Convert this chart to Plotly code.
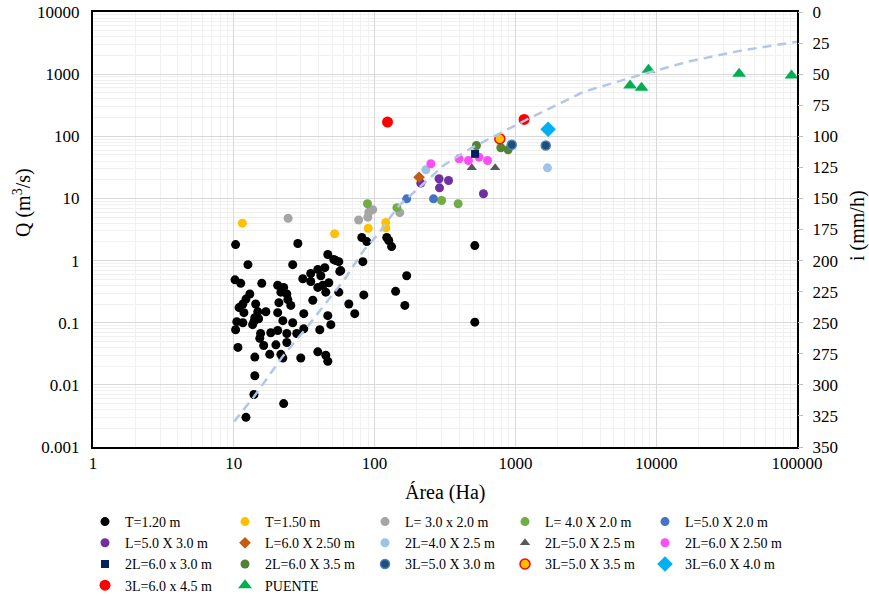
import plotly.graph_objects as go

# ---- data: drainage area (Ha) vs. design flow Q (m3/s), by structure type ----
t120_area = [10.3, 28.5, 12.6, 26.2, 10.2, 11.2, 15.8, 20.5, 22.6, 13.0, 21.6, 23.8, 12.2, 11.6,
             14.3, 20.9, 24.2, 25.4, 10.9, 11.8, 14.8, 16.9, 20.5, 31.4, 30.9, 35.2, 39.5, 44.3,
             41.5, 46.5, 51.3, 55.7, 56.6, 36.4, 39.5, 42.9, 45.0, 47.3, 35.2, 10.5, 11.6, 13.9,
             15.0, 22.3, 26.2, 46.5, 10.3, 13.6, 15.5, 18.3, 20.5, 23.8, 28.0, 31.4, 40.8, 48.9,
             15.3, 16.3, 19.9, 23.8, 10.7, 14.1, 18.0, 21.6, 22.3, 29.9, 39.5, 45.0, 46.5, 14.1,
             13.9, 22.6, 12.2, 81.1, 88.0, 122, 126, 132, 82.5, 169, 141, 164, 83.8, 65.6, 72.3,
             55.7, 57.5, 53.0, 515, 515, 14.1]
t120_q = [1.81, 1.88, 0.86, 0.86, 0.49, 0.43, 0.43, 0.40, 0.37, 0.29, 0.31, 0.29, 0.24, 0.20,
          0.20, 0.21, 0.235, 0.19, 0.175, 0.145, 0.15, 0.15, 0.145, 0.14, 0.51, 0.62, 0.72, 0.77,
          0.57, 1.25, 1.04, 0.96, 0.67, 0.23, 0.37, 0.40, 0.31, 0.44, 0.46, 0.104, 0.100, 0.104,
          0.116, 0.108, 0.100, 0.130, 0.077, 0.093, 0.067, 0.069, 0.075, 0.067, 0.067, 0.080, 0.077, 0.093,
          0.056, 0.043, 0.044, 0.048, 0.040, 0.028, 0.031, 0.031, 0.027, 0.027, 0.034, 0.030, 0.024, 0.014,
          0.007, 0.005, 0.003, 2.35, 2.02, 2.35, 2.10, 1.68, 0.96, 0.57, 0.32, 0.19, 0.28, 0.20, 0.14,
          0.31, 0.69, 1.0, 1.74, 0.102, 0.12]

t150_area = [11.5, 52, 90, 120, 120]
t150_q = [4.0, 2.7, 3.3, 4.1, 3.35]

l30x20_area = [24.3, 77, 89.5, 91, 97, 151]
l30x20_q = [4.8, 4.5, 5.0, 6.0, 6.6, 5.9]

l40x20_area = [89, 144, 299, 392]
l40x20_q = [8.2, 7.1, 9.25, 8.2]

l50x20_area = [169, 262]
l50x20_q = [9.85, 9.85]

l50x30_area = [213, 287, 335, 289, 593]
l50x30_q = [17.6, 20.7, 19.4, 14.8, 11.9]

l60x25_area = [207]
l60x25_q = [21.9]

l2_40x25_area = [231, 1690]
l2_40x25_q = [28.9, 31.1]

l2_50x25_area = [490, 718]
l2_50x25_q = [31.1, 31.1]

l2_60x25_area = [251, 398, 464, 552, 634]
l2_60x25_q = [36.1, 43.4, 40.7, 46.1, 40.7]

l2_60x30_area = [517]
l2_60x30_q = [52.2]

l2_60x35_area = [529, 788, 888]
l2_60x35_q = [71.1, 65.3, 60.6]

l3_50x30_area = [942, 1643]
l3_50x30_q = [72.9, 71.0]

l3_50x35_area = [775]
l3_50x35_q = [91.2]

l3_60x40_area = [1707]
l3_60x40_q = [130]

l3_60x45_area = [123.5, 1153]
l3_60x45_q = [169, 187]

puente_area = [6525, 7865, 8815, 38800, 91400]
puente_q = [658, 604, 1178, 1015, 953]

# rainfall intensity curve i (mm/h) against area, read on the right axis
curve_area = [10.05, 13.9, 22.2, 33.3, 60.7, 84.1, 105, 146, 238, 312, 482, 706, 1186,
              3076, 6966, 16670, 39900, 90360, 100000]
curve_i = [329.6, 309.5, 277.3, 253.2, 215.6, 191.5, 179.4, 156.7, 135.2, 123.1, 109.7, 99.8,
           86.9, 64.1, 52.1, 40.0, 31.1, 24.7, 24.0]

x_tickvals = [1, 10, 100, 1000, 10000, 100000]
x_ticktext = ["1", "10", "100", "1000", "10000", "100000"]
y_tickvals = [0.001, 0.01, 0.1, 1, 10, 100, 1000, 10000]
y_ticktext = ["0.001", "0.01", "0.1", "1", "10", "100", "1000", "10000"]
i_tickvals = list(range(0, 351, 25))

# ---- series styling ----
series = [
    ("T=1.20 m", t120_area, t120_q, dict(color="#000000", symbol="circle", size=9)),
    ("T=1.50 m", t150_area, t150_q, dict(color="#FFC000", symbol="circle", size=9)),
    ("L= 3.0 x 2.0 m", l30x20_area, l30x20_q, dict(color="#A5A5A5", symbol="circle", size=9)),
    ("L= 4.0 X 2.0 m", l40x20_area, l40x20_q, dict(color="#70AD47", symbol="circle", size=9)),
    ("L=5.0 X 2.0 m", l50x20_area, l50x20_q, dict(color="#4472C4", symbol="circle", size=9)),
    ("L=5.0 X 3.0 m", l50x30_area, l50x30_q, dict(color="#7030A0", symbol="circle", size=9)),
    ("L=6.0 X 2.50 m", l60x25_area, l60x25_q, dict(color="#C55A11", symbol="diamond", size=9)),
    ("2L=4.0 X 2.5 m", l2_40x25_area, l2_40x25_q, dict(color="#9DC3E6", symbol="circle", size=9)),
    ("2L=5.0 X 2.5 m", l2_50x25_area, l2_50x25_q, dict(color="#595959", symbol="triangle-up", size=9)),
    ("2L=6.0 X 2.50 m", l2_60x25_area, l2_60x25_q, dict(color="#FF4DF5", symbol="circle", size=9)),
    ("2L=6.0 x 3.0 m", l2_60x30_area, l2_60x30_q, dict(color="#002060", symbol="square", size=8)),
    ("2L=6.0 X 3.5 m", l2_60x35_area, l2_60x35_q, dict(color="#548235", symbol="circle", size=9)),
    ("3L=5.0 X 3.0 m", l3_50x30_area, l3_50x30_q,
     dict(color="#1F4E79", symbol="circle", size=9, line=dict(color="#4A7EB5", width=1.5))),
    ("3L=5.0 X 3.5 m", l3_50x35_area, l3_50x35_q,
     dict(color="#FFC000", symbol="circle", size=10, line=dict(color="#FF0000", width=1.5))),
    ("3L=6.0 X 4.0 m", l3_60x40_area, l3_60x40_q, dict(color="#00B0F0", symbol="diamond", size=12)),
    ("3L=6.0 x 4.5 m", l3_60x45_area, l3_60x45_q, dict(color="#FF0000", symbol="circle", size=11)),
    ("PUENTE", puente_area, puente_q, dict(color="#00B050", symbol="triangle-up", size=12)),
]

fig = go.Figure()

fig.add_trace(go.Scatter(
    x=curve_area, y=curve_i, yaxis="y2", mode="lines", showlegend=False,
    line=dict(color="#B4C7E7", width=2.5, dash="9px,6px"), hoverinfo="skip",
))

for name, xs, ys, mk in series:
    marker = dict(mk)
    marker.setdefault("line", dict(width=0))
    fig.add_trace(go.Scatter(x=xs, y=ys, mode="markers", name=name, marker=marker))

serif = "Liberation Serif, Times New Roman, serif"

# plot area: 93..797 px horizontally, 12..447 px vertically
fig.update_layout(
    width=869, height=596,
    margin=dict(l=93, r=72, t=12, b=149, autoexpand=False),
    paper_bgcolor="white", plot_bgcolor="white",
    font=dict(family=serif, size=17, color="#000000"),
    xaxis=dict(
        type="log", range=[0, 5], tickvals=x_tickvals, ticktext=x_ticktext,
        showgrid=True, gridcolor="#D9D9D9", gridwidth=1,
        minor=dict(showgrid=True, gridcolor="#F0F0F0", dtick="D1", ticks=""),
        showline=True, linecolor="#000000", linewidth=2, mirror=True,
        ticks="", tickfont=dict(size=17), zeroline=False,
    ),
    yaxis=dict(
        type="log", range=[-3, 4], tickvals=y_tickvals, ticktext=y_ticktext,
        showgrid=True, gridcolor="#D9D9D9", gridwidth=1,
        minor=dict(showgrid=True, gridcolor="#F0F0F0", dtick="D1", ticks=""),
        showline=True, linecolor="#000000", linewidth=2, mirror=True,
        ticks="", tickfont=dict(size=17), zeroline=False, ticklabelstandoff=8,
    ),
    yaxis2=dict(
        overlaying="y", side="right", range=[350, 0], tickvals=i_tickvals,
        showgrid=False, zeroline=False, showline=False,
        ticks="outside", ticklen=5, tickcolor="#BFBFBF", tickfont=dict(size=17),
        ticklabelstandoff=6,
    ),
    legend=dict(
        orientation="h", xref="container", x=85 / 869, xanchor="left",
        yref="container", y=1 - 506 / 596, yanchor="top",
        entrywidth=95, entrywidthmode="pixels",
        font=dict(family=serif, size=14), tracegroupgap=0, itemwidth=30,
    ),
    annotations=[
        dict(text="Área (Ha)", x=0.5, xref="paper", y=(447 - 493) / 435, yref="paper",
             showarrow=False, font=dict(size=20), xanchor="center", yanchor="middle"),
        dict(text="Q (m<sup>3</sup>/s)", x=(23 - 93) / 704, xref="paper", y=(447 - 203) / 435,
             yref="paper", showarrow=False, font=dict(size=20), textangle=-90,
             xanchor="center", yanchor="middle"),
        dict(text="i (mm/h)", x=(857 - 93) / 704, xref="paper", y=(447 - 226) / 435,
             yref="paper", showarrow=False, font=dict(size=20), textangle=-90,
             xanchor="center", yanchor="middle"),
    ],
    showlegend=True,
)

fig.write_html("out.html")
